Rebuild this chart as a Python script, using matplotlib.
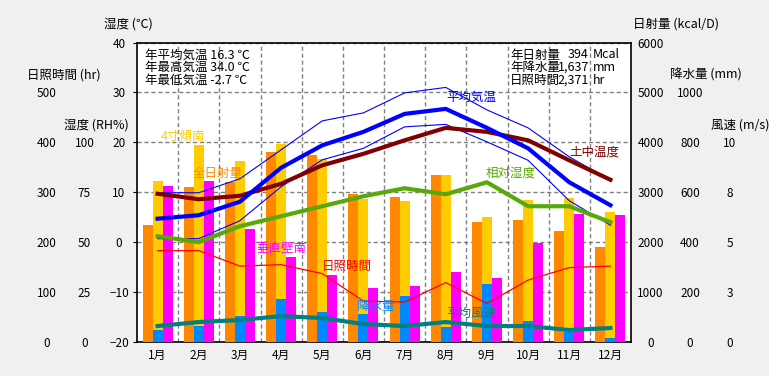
import numpy as np
import matplotlib
matplotlib.use('Agg')
import matplotlib.pyplot as plt

plt.rcParams['font.family'] = ['Noto Sans CJK JP', 'DejaVu Sans']

# monthly data
months = ['1月', '2月', '3月', '4月', '5月', '6月', '7月', '8月', '9月', '10月', '11月', '12月']
solar_all = [2340, 3100, 3210, 3810, 3740, 2960, 2910, 3350, 2410, 2450, 2230, 1910]     # 全日射量 kcal/D
solar_slope = [3220, 3940, 3620, 3960, 3660, 2860, 2830, 3350, 2510, 2850, 2890, 2610]   # 4寸傾南
solar_wall = [3120, 3220, 2260, 1710, 1340, 1090, 1130, 1400, 1290, 1990, 2570, 2550]    # 垂直壁南
precip = [48, 64, 104, 172, 120, 112, 185, 61, 233, 84, 41, 17]                          # 降水量 mm
t_avg = [4.7, 5.4, 8.1, 14.9, 19.4, 22.1, 25.7, 26.7, 22.9, 18.8, 12.0, 7.4]             # 平均気温
t_max = [9.9, 9.9, 12.7, 18.5, 24.3, 25.9, 29.9, 31.0, 26.5, 22.9, 17.1, 12.4]
t_min = [0.7, 0.7, 4.3, 11.1, 16.5, 18.8, 23.1, 23.6, 20.1, 16.4, 8.3, 3.4]
t_soil = [9.7, 8.6, 9.3, 11.7, 15.4, 17.7, 20.4, 22.9, 22.1, 20.4, 16.4, 12.5]           # 土中温度
rh = [53, 50, 58, 63, 68, 73, 77, 74, 80, 68, 68, 60]                                    # 相対湿度 %
sun_hr = [183, 183, 152, 155, 137, 82, 80, 119, 77, 124, 149, 152]                       # 日照時間 hr
wind = [0.8, 1.0, 1.1, 1.3, 1.2, 0.9, 0.8, 1.0, 0.8, 0.8, 0.6, 0.7]                      # 平均風速 m/s

temp_ticks = [-20, -10, 0, 10, 20, 30, 40]
sun_ticks = [0, 100, 200, 300, 400, 500]
rh_ticks = [0, 25, 50, 75, 100]
solar_ticks = [0, 1000, 2000, 3000, 4000, 5000, 6000]
precip_ticks = [0, 200, 400, 600, 800, 1000]
wind_ticks = [0, 2.5, 5, 7.5, 10]
wind_labels = ['0', '3', '5', '8', '10']

W, H = 769, 376
fs = 8.5

fig = plt.figure(figsize=(W/100, H/100), dpi=100)
fig.patch.set_facecolor('#f0f0f0')

ax = fig.add_axes([137/W, 1-342/H, 494/W, 299.5/H])
ax.set_facecolor('white')
x = np.arange(12) + 0.5
ax.set_xlim(0, 12)
ax.set_ylim(-20, 40)
ax.set_yticks(temp_ticks)
ax.set_xticks(x)
ax.set_xticklabels(months, fontsize=fs)
ax.set_xticks(np.arange(1, 12), minor=True)
ax.tick_params(axis='x', which='both', length=0, pad=5)
ax.tick_params(axis='y', length=3, pad=4, labelsize=fs)
for lbl in ax.get_yticklabels():
    lbl.set_ha('center')
ax.tick_params(axis='y', pad=10)
ax.grid(axis='y', which='major', color='#808080', ls=(0, (3, 2)), lw=1)
ax.grid(axis='x', which='minor', color='#808080', ls=(0, (3, 2)), lw=1)
ax.set_axisbelow(True)
for s in ax.spines.values():
    s.set_color('black')
    s.set_linewidth(1.2)


def twin(ylim):
    a = ax.twinx()
    a.set_ylim(*ylim)
    a.set_xlim(0, 12)
    for s in a.spines.values():
        s.set_visible(False)
    a.set_yticks([])
    return a


# bars
w = 0.243
ax_solar = twin((0, 6000))
ax_solar.bar(x - w, solar_all, width=w, color='#ff8800', zorder=2)
ax_solar.bar(x, solar_slope, width=w, color='#ffcc00', zorder=2)
ax_solar.bar(x + w, solar_wall, width=w, color='#ff00ff', zorder=2)
ax_solar.set_yticks(solar_ticks)
ax_solar.tick_params(axis='y', length=0, pad=14, labelsize=fs)
for lbl in ax_solar.get_yticklabels():
    lbl.set_ha('center')

ax_prec = twin((0, 1200))
ax_prec.bar(x, precip, width=w, color='#0088ff')
ax_prec.set_yticks(precip_ticks)
ax_prec.tick_params(axis='y', length=0, pad=42.5, labelsize=fs)
for lbl in ax_prec.get_yticklabels():
    lbl.set_ha('center')

# lines
ax_t = twin((-20, 40))
ax_t.plot(x, t_max, color='#0000ff', lw=0.8)
ax_t.plot(x, t_min, color='#0000ff', lw=0.8)
ax_t.plot(x, t_soil, color='#800000', lw=3)
ax_t.plot(x, t_avg, color='#0000ff', lw=3)

ax_rh = twin((0, 150))
ax_rh.plot(x, rh, color='#58a80a', lw=3)
ax_rh.yaxis.tick_left()
ax_rh.set_yticks(rh_ticks)
ax_rh.tick_params(axis='y', length=0, pad=37.8, labelsize=fs)
for lbl in ax_rh.get_yticklabels():
    lbl.set_ha('center')

ax_sun = twin((0, 600))
ax_sun.plot(x, sun_hr, color='#ff0000', lw=0.9)
ax_sun.yaxis.tick_left()
ax_sun.set_yticks(sun_ticks)
ax_sun.tick_params(axis='y', length=0, pad=65, labelsize=fs)
for lbl in ax_sun.get_yticklabels():
    lbl.set_ha('center')

ax_wind = twin((0, 15))
ax_wind.plot(x, wind, color='#008080', lw=3)
ax_wind.set_yticks(wind_ticks)
ax_wind.set_yticklabels(wind_labels)
ax_wind.tick_params(axis='y', length=0, pad=71, labelsize=fs)
for lbl in ax_wind.get_yticklabels():
    lbl.set_ha('center')


def ftext(px, py, s, **kw):
    kw.setdefault('fontsize', 9)
    kw.setdefault('va', 'center')
    fig.text(px/W, 1-py/H, s, **kw)


# axis titles
ftext(128, 24, '湿度 (℃)', ha='center')
ftext(64, 75, '日照時間 (hr)', ha='center')
ftext(96, 125, '湿度 (RH%)', ha='center')
ftext(676, 24, '日射量 (kcal/D)', ha='center')
ftext(706, 75, '降水量 (mm)', ha='center')
ftext(740, 125, '風速 (m/s)', ha='center')

# annual summary
ftext(145, 55, '年平均気温 16.3 ℃')
ftext(145, 67.5, '年最高気温 34.0 ℃')
ftext(145, 80, '年最低気温 -2.7 ℃')
for py, name, val, unit in [(55, '年日射量', '394', 'Mcal'),
                            (67.5, '年降水量', '1,637', 'mm'),
                            (80, '日照時間', '2,371', 'hr')]:
    ftext(510, py, name)
    ftext(589, py, val, ha='right')
    ftext(593, py, unit)

# series labels
ftext(161, 136, '4寸傾南', color='#ffcc00')
ftext(193, 173, '全日射量', color='#ff8800')
ftext(256, 248, '垂直壁南', color='#ff00ff')
ftext(322, 266, '日照時間', color='#ff0000')
ftext(357, 306, '降水量', color='#0088ff')
ftext(446, 313, '平均風速', color='#008080')
ftext(486, 173, '相対湿度', color='#55aa00')
ftext(569, 152, '土中温度', color='#800000')
ftext(446, 97, '平均気温', color='#0000ff')

plt.savefig('out.png', dpi=100, facecolor=fig.get_facecolor())
